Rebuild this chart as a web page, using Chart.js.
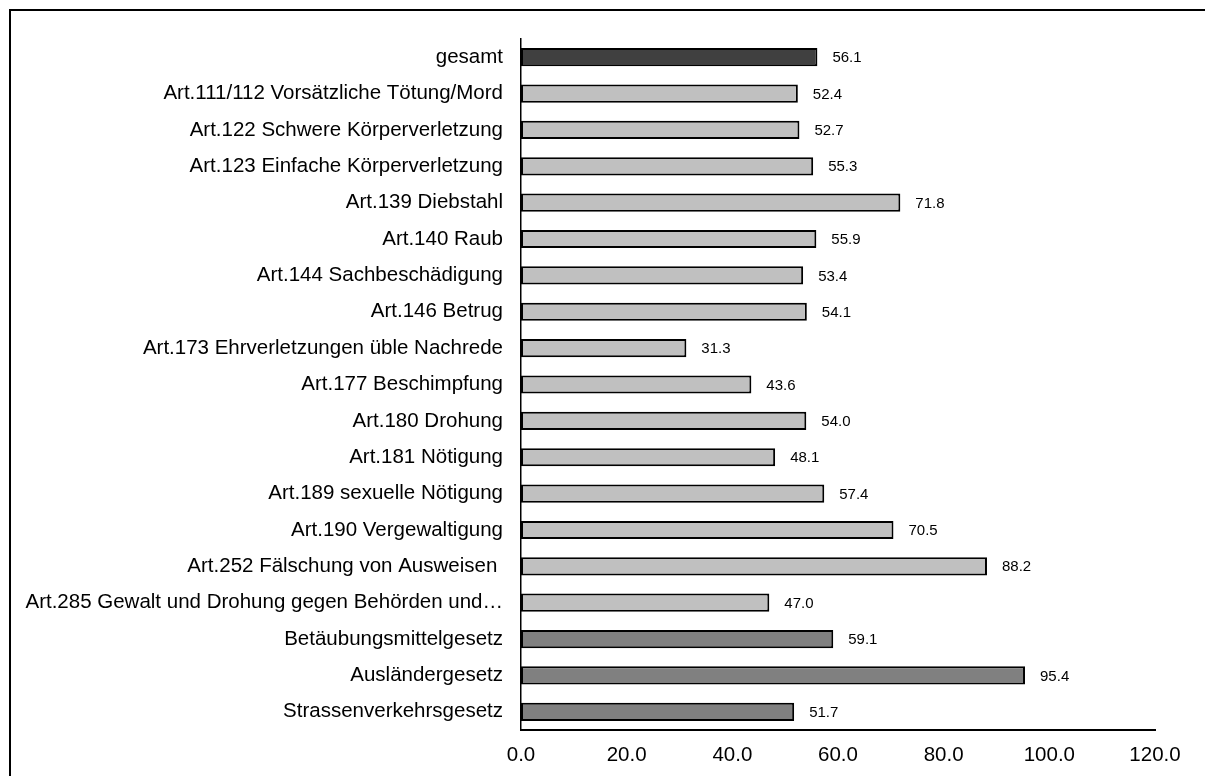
<!DOCTYPE html>
<html lang="de">
<head>
    <meta charset="UTF-8">
    <title>Anteil nach Straftat</title>
    <script src="https://cdn.jsdelivr.net/npm/chart.js"></script>
    <style>
        html, body {
            margin: 0;
            padding: 0;
            background: #fff;
            overflow: hidden;
        }
        .wrap {
            position: relative;
            width: 1205px;
            height: 776px;
        }
        .frame {
            position: absolute;
            left: 9px;
            top: 9px;
            width: 1210px;
            height: 800px;
            border: 2px solid #000;
        }
        canvas {
            position: absolute;
            left: 0;
            top: 0;
        }
    </style>
</head>
<body>
    <div class="wrap">
        <div class="frame"></div>
        <canvas id="chart" width="1205" height="776"></canvas>
    </div>
    <script>
        const categories = [
            'gesamt',
            'Art.111/112 Vorsätzliche Tötung/Mord',
            'Art.122 Schwere Körperverletzung',
            'Art.123 Einfache Körperverletzung',
            'Art.139 Diebstahl',
            'Art.140 Raub',
            'Art.144 Sachbeschädigung',
            'Art.146 Betrug',
            'Art.173 Ehrverletzungen üble Nachrede',
            'Art.177 Beschimpfung',
            'Art.180 Drohung',
            'Art.181 Nötigung',
            'Art.189 sexuelle Nötigung',
            'Art.190 Vergewaltigung',
            'Art.252 Fälschung von Ausweisen ',
            'Art.285 Gewalt und Drohung gegen Behörden und…',
            'Betäubungsmittelgesetz',
            'Ausländergesetz',
            'Strassenverkehrsgesetz'
        ];
        const values = [56.1, 52.4, 52.7, 55.3, 71.8, 55.9, 53.4, 54.1, 31.3, 43.6, 54.0, 48.1, 57.4, 70.5, 88.2, 47.0, 59.1, 95.4, 51.7];
        // gruppe: 0 = gesamt, 1 = StGB, 2 = Nebengesetze
        const groups = [0, 1, 1, 1, 1, 1, 1, 1, 1, 1, 1, 1, 1, 1, 1, 1, 2, 2, 2];
        const groupColors = ['#404040', '#c0c0c0', '#808080'];

        const fontFamily = '"Liberation Sans", Arial, sans-serif';

        const valueLabels = {
            id: 'valueLabels',
            afterDatasetsDraw(chart) {
                const ctx = chart.ctx;
                const meta = chart.getDatasetMeta(0);
                ctx.save();
                ctx.font = '15px ' + fontFamily;
                ctx.fillStyle = '#000';
                ctx.textAlign = 'left';
                ctx.textBaseline = 'middle';
                meta.data.forEach((bar, i) => {
                    ctx.fillText(values[i].toFixed(1), bar.x + 15, bar.y + 1);
                });
                ctx.restore();
            }
        };

        new Chart(document.getElementById('chart'), {
            type: 'bar',
            data: {
                labels: categories,
                datasets: [{
                    data: values,
                    backgroundColor: groups.map(g => groupColors[g]),
                    borderColor: '#000',
                    borderWidth: 2,
                    borderSkipped: false,
                    barPercentage: 0.5,
                    categoryPercentage: 1
                }]
            },
            options: {
                indexAxis: 'y',
                responsive: false,
                animation: false,
                layout: {
                    padding: { top: 39, right: 50, left: 0, bottom: 0 }
                },
                plugins: {
                    legend: { display: false },
                    tooltip: { enabled: false }
                },
                scales: {
                    x: {
                        min: 0,
                        max: 120,
                        grid: { display: false, drawTicks: false },
                        border: { display: true, color: '#000', width: 2 },
                        ticks: {
                            stepSize: 20,
                            padding: 13,
                            color: '#000',
                            maxRotation: 0,
                            font: { family: fontFamily, size: 20.5 },
                            callback: v => v.toFixed(1)
                        },
                        afterFit: scale => { scale.height = 46; }
                    },
                    y: {
                        grid: { display: false, drawTicks: false },
                        border: { display: true, color: '#000', width: 1.5 },
                        ticks: {
                            padding: 18,
                            color: '#000',
                            autoSkip: false,
                            font: { family: fontFamily, size: 20.5 }
                        },
                        afterFit: scale => { scale.width = 521; }
                    }
                }
            },
            plugins: [valueLabels]
        });
    </script>
</body>
</html>
